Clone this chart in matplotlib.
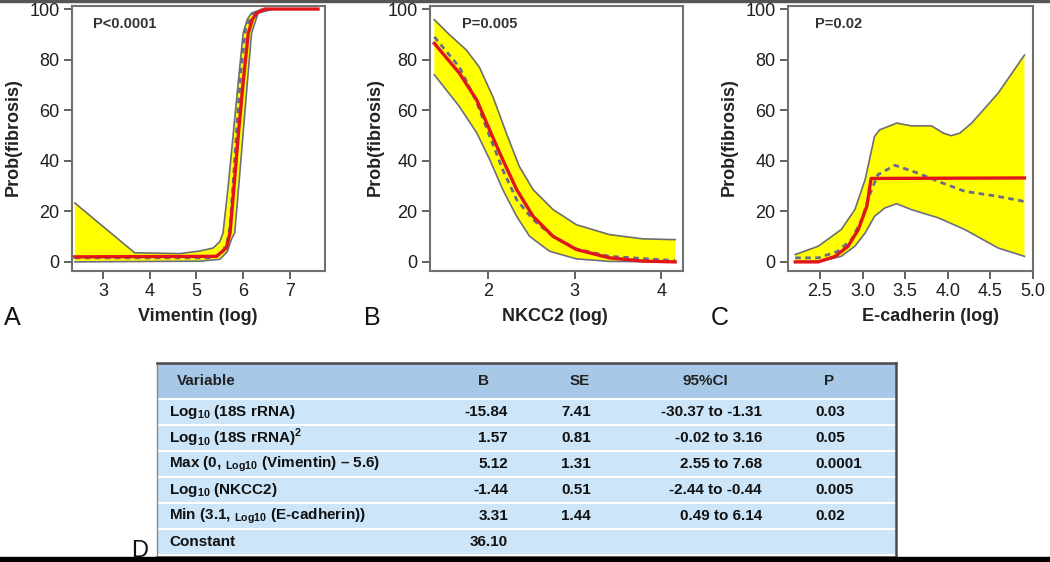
import matplotlib
matplotlib.use("Agg")
import matplotlib.pyplot as plt
from matplotlib.patches import Rectangle

plt.rcParams['font.family'] = ['Liberation Sans', 'DejaVu Sans']
plt.rcParams['mathtext.fontset'] = 'custom'
plt.rcParams['mathtext.rm'] = 'Liberation Sans'
plt.rcParams['mathtext.bf'] = 'Liberation Sans:bold'

# ===== Data =====
# Panel A - Vimentin
a_up_x = [2.40, 3.68, 4.65, 5.07, 5.36, 5.50, 5.57, 5.68, 5.79, 5.90, 6.00, 6.09, 6.18, 6.39]
a_up_y = [23.3, 3.6, 3.3, 4.3, 5.5, 8.0, 11.5, 30.0, 51.0, 72.0, 90.5, 96.0, 98.4, 99.8]
a_lo_x = [2.40, 5.07, 5.50, 5.66, 5.75, 5.82, 5.91, 6.00, 6.09, 6.18, 6.32, 6.60]
a_lo_y = [0.0, 0.3, 1.0, 4.0, 9.0, 11.5, 31.0, 51.0, 71.0, 90.5, 98.4, 99.8]
a_red_x = [2.40, 5.43, 5.64, 5.72, 5.81, 5.90, 6.00, 6.11, 6.20, 6.29, 6.46, 7.60]
a_red_y = [2.0, 2.2, 5.5, 11.5, 31.0, 51.0, 71.0, 90.5, 96.0, 98.4, 100.0, 100.0]
a_dash_x = [2.40, 5.35, 5.55, 5.66, 5.72, 5.80, 5.87, 5.95, 6.05, 6.20, 6.40]
a_dash_y = [1.6, 1.6, 3.5, 8.0, 14.0, 35.0, 55.0, 75.0, 92.0, 98.0, 99.8]

# Panel B - NKCC2
b_up_x = [1.38, 1.55, 1.75, 1.90, 2.06, 2.21, 2.36, 2.52, 2.75, 3.02, 3.40, 3.79, 4.16]
b_up_y = [95.8, 90.0, 83.8, 77.0, 65.0, 51.0, 37.8, 28.6, 20.7, 14.7, 10.8, 9.1, 8.8]
b_lo_x = [1.38, 1.67, 1.87, 2.02, 2.17, 2.33, 2.48, 2.71, 3.02, 3.40, 4.16]
b_lo_y = [74.0, 61.4, 51.0, 40.4, 28.6, 18.0, 10.1, 4.2, 1.2, 0.2, 0.0]
b_red_x = [1.38, 1.67, 1.87, 2.02, 2.17, 2.33, 2.52, 2.75, 3.02, 3.40, 3.79, 4.16]
b_red_y = [86.4, 74.6, 64.0, 52.0, 40.4, 28.6, 18.0, 10.1, 4.9, 1.6, 0.3, 0.0]
b_dash_x = [1.38, 1.67, 1.87, 2.02, 2.17, 2.33, 2.52, 2.75, 3.02, 3.40, 4.16]
b_dash_y = [89.0, 77.0, 63.0, 49.6, 36.4, 24.6, 16.7, 10.1, 5.1, 2.2, 0.5]

# Panel C - E-cadherin
c_up_x = [2.21, 2.48, 2.75, 2.91, 3.03, 3.14, 3.20, 3.40, 3.57, 3.81, 3.95, 4.04, 4.14,
          4.28, 4.59, 4.90]
c_up_y = [2.9, 6.2, 12.8, 20.7, 32.5, 49.6, 52.2, 54.9, 53.8, 53.8, 50.9, 49.9, 50.9,
          54.9, 66.7, 81.8]
c_lo_x = [2.21, 2.52, 2.75, 2.91, 3.03, 3.14, 3.26, 3.40, 3.57, 3.89, 4.20, 4.59, 4.90]
c_lo_y = [0.0, 0.3, 2.2, 6.2, 11.4, 18.0, 21.3, 23.0, 20.7, 17.4, 12.8, 5.5, 2.2]
c_red_x = [2.21, 2.48, 2.68, 2.83, 2.95, 3.05, 3.10, 4.90]
c_red_y = [0.0, 0.0, 2.2, 6.2, 12.8, 22.0, 33.0, 33.2]
c_dash_x = [2.21, 2.48, 2.71, 2.87, 2.99, 3.09, 3.18, 3.38, 3.65, 3.89, 4.20, 4.59, 4.90]
c_dash_y = [1.6, 1.6, 4.2, 8.8, 16.7, 27.2, 34.5, 38.2, 35.1, 31.8, 27.9, 25.9, 23.9]

panel_letters = ["A", "B", "C"]
x_labels = ["Vimentin (log)", "NKCC2 (log)", "E-cadherin (log)"]
p_texts = ["P<0.0001", "P=0.005", "P=0.02"]
x_ticks = [[3, 4, 5, 6, 7], [2, 3, 4], [2.5, 3.0, 3.5, 4.0, 4.5, 5.0]]
x_tick_labels = [["3", "4", "5", "6", "7"], ["2", "3", "4"],
                 ["2.5", "3.0", "3.5", "4.0", "4.5", "5.0"]]
y_ticks = [0, 20, 40, 60, 80, 100]

# Table D
tab_header = ["Variable", "B", "SE", "95%CI", "P"]
tab_var = [r"Log$_{\mathbf{10}}$ (18S rRNA)",
           r"Log$_{\mathbf{10}}$ (18S rRNA)$^{\mathbf{2}}$",
           r"Max (0, ${}_{\mathbf{Log10}}$ (Vimentin) – 5.6)",
           r"Log$_{\mathbf{10}}$ (NKCC2)",
           r"Min (3.1, ${}_{\mathbf{Log10}}$ (E-cadherin))",
           "Constant"]
tab_b = ["-15.84", "1.57", "5.12", "-1.44", "3.31", "36.10"]
tab_se = ["7.41", "0.81", "1.31", "0.51", "1.44", ""]
tab_ci = ["-30.37 to -1.31", "-0.02 to 3.16", "2.55 to 7.68",
          "-2.44 to -0.44", "0.49 to 6.14", ""]
tab_p = ["0.03", "0.05", "0.0001", "0.005", "0.02", ""]

# ===== Figure =====
W, H = 1050, 562
fig = plt.figure(figsize=(W / 100, H / 100), dpi=100)


def px_axes(l, t, r, b):
    return fig.add_axes([l / W, 1 - b / H, (r - l) / W, (b - t) / H])


axes_px = [(72, 6, 325, 271), (430, 6, 683, 271), (788, 6, 1033, 271)]
xlims = [(2.34, 7.75), (1.33, 4.25), (2.125, 5.0)]
ylab_x = [-0.200, -0.182, -0.204]
xlab_x = [0.498, 0.494, 0.58]
letter_x = [4, 364, 711]
p_x = [93, 462, 815]

bands = [(a_up_x, a_up_y, a_lo_x, a_lo_y), (b_up_x, b_up_y, b_lo_x, b_lo_y),
         (c_up_x, c_up_y, c_lo_x, c_lo_y)]
reds = [(a_red_x, a_red_y), (b_red_x, b_red_y), (c_red_x, c_red_y)]
dashes = [(a_dash_x, a_dash_y), (b_dash_x, b_dash_y), (c_dash_x, c_dash_y)]

for i in range(3):
    ax = px_axes(*axes_px[i])
    ux, uy, lx, ly = bands[i]
    ax.fill(ux + lx[::-1], uy + ly[::-1], color="#ffff00", lw=0, zorder=1)
    ax.plot(ux, uy, color="#6e6e6e", lw=1.2, zorder=2)
    ax.plot(lx, ly, color="#6e6e7e", lw=1.2, zorder=2)
    ax.plot(dashes[i][0], dashes[i][1], color="#6a6a8c", lw=2, ls=(0, (2, 1.6)), zorder=3)
    ax.plot(reds[i][0], reds[i][1], color="#e0161b", lw=2.4, zorder=4)

    ax.set_xlim(*xlims[i])
    ax.set_ylim(-3.6, 101.2)
    ax.set_xticks(x_ticks[i])
    ax.set_xticklabels(x_tick_labels[i])
    ax.set_yticks(y_ticks)
    ax.tick_params(direction="out", length=6, width=1.3, colors="#555555",
                   labelcolor="#1e1e1e", labelsize=13, pad=3)
    for s in ax.spines.values():
        s.set_color("#707070")
        s.set_linewidth(1.5)
    ax.set_ylabel("Prob(fibrosis)", fontsize=13, fontweight="bold", color="#222222")
    ax.yaxis.set_label_coords(ylab_x[i], 0.505)
    ax.set_xlabel(x_labels[i], fontsize=13, fontweight="bold", color="#222222")
    ax.xaxis.set_label_coords(xlab_x[i], -0.14)
    ax.text((p_x[i] - axes_px[i][0]) / (axes_px[i][2] - axes_px[i][0]),
            (271 - 24) / 265, p_texts[i], transform=ax.transAxes,
            fontsize=10.5, fontweight="bold", color="#333333", va="center", ha="left")
    fig.text(letter_x[i] / W, 1 - 325 / H, panel_letters[i], fontsize=18,
             color="#111111", ha="left", va="baseline")

# ===== Table D =====
tl, tt, tr, tb = 157, 363, 896, 557
tax = px_axes(tl, tt, tr, tb)
tw, th = tr - tl, tb - tt
tax.set_xlim(0, tw)
tax.set_ylim(th, 0)
tax.set_xticks([])
tax.set_yticks([])
for s in tax.spines.values():
    s.set_color("#4a4a4a")
    s.set_linewidth(1.8)
tax.spines["left"].set_linewidth(1.0)
tax.spines["left"].set_color("#888888")
tax.add_patch(Rectangle((0, 0), tw, 35, color="#a7c9e7", lw=0))
row_h = 26
row_top = 37
for r in range(len(tab_var)):
    tax.add_patch(Rectangle((0, row_top + r * row_h), tw, row_h - 2, color="#cce5f8", lw=0))

hdr_x = [20, 327, 423, 548, 672]
hdr_ha = ["left", "center", "center", "center", "center"]
for j, h in enumerate(tab_header):
    tax.text(hdr_x[j], 18, h, ha=hdr_ha[j], va="center", fontsize=11,
             fontweight="bold", color="#222222")

for r in range(len(tab_var)):
    yc = row_top + r * row_h + 12
    kw = dict(va="center", fontsize=11, fontweight="bold", color="#111111")
    tax.text(12, yc, tab_var[r], ha="left", **kw)
    tax.text(351, yc, tab_b[r], ha="right", **kw)
    tax.text(434, yc, tab_se[r], ha="right", **kw)
    tax.text(605, yc, tab_ci[r], ha="right", **kw)
    tax.text(658, yc, tab_p[r], ha="left", **kw)

fig.text(131 / W, 1 - 557 / H, "D", fontsize=17, color="#111111", ha="left", va="baseline")

# frame bits
fig.patches.append(Rectangle((0, 0), 1, 5 / H, transform=fig.transFigure,
                             color="black", zorder=10))
fig.patches.append(Rectangle((0, 1 - 2 / H), 1, 2 / H, transform=fig.transFigure,
                             color="#555555", zorder=10))

fig.savefig("out.png", dpi=100)
